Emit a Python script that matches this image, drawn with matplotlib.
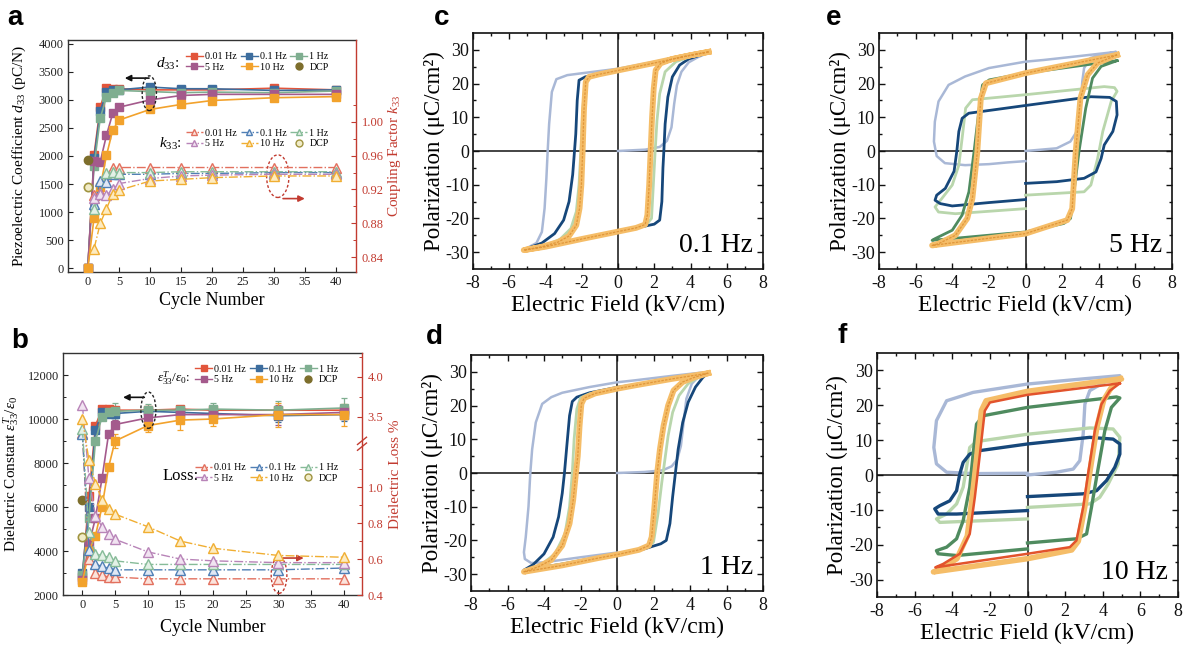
import numpy as np
import matplotlib
matplotlib.use("Agg")
import matplotlib.pyplot as plt
from matplotlib.lines import Line2D
from matplotlib.patches import Ellipse

plt.rcParams['font.family'] = ['Liberation Serif', 'DejaVu Serif']
plt.rcParams['mathtext.fontset'] = 'custom'
plt.rcParams['mathtext.rm'] = 'Liberation Serif'
plt.rcParams['mathtext.it'] = 'Liberation Serif:italic'
plt.rcParams['mathtext.bf'] = 'Liberation Serif:bold'
plt.rcParams['axes.unicode_minus'] = False

# ---------------- cycling data (panels a, b) ----------------
cycles = [0, 1, 2, 3, 4, 5, 10, 15, 20, 30, 40]
freq_labels = ['0.01 Hz', '0.1 Hz', '1 Hz', '5 Hz', '10 Hz']

d33_001 = [0, 2020, 2880, 3210, 3190, 3200, 3180, 3180, 3180, 3210, 3180]
d33_01 = [0, 1960, 2800, 3150, 3170, 3180, 3230, 3200, 3200, 3170, 3180]
d33_1 = [0, 1820, 2680, 3050, 3120, 3170, 3150, 3130, 3140, 3130, 3160]
d33_5 = [0, 1910, 1900, 2370, 2760, 2870, 3000, 3080, 3100, 3100, 3100]
d33_10 = [0, 900, 1450, 2010, 2460, 2640, 2830, 2920, 2990, 3040, 3060]
d33_dcp = 1920

k33_cycles = [1, 2, 3, 4, 5, 10, 15, 20, 30, 40]
k33_001 = [0.913, 0.917, 0.936, 0.946, 0.946, 0.946, 0.946, 0.946, 0.946, 0.946]
k33_01 = [0.903, 0.930, 0.929, 0.938, 0.938, 0.938, 0.939, 0.939, 0.940, 0.940]
k33_1 = [0.897, 0.915, 0.940, 0.941, 0.940, 0.940, 0.941, 0.941, 0.941, 0.941]
k33_5 = [0.910, 0.915, 0.913, 0.920, 0.927, 0.933, 0.936, 0.937, 0.938, 0.938]
k33_10 = [0.850, 0.880, 0.897, 0.915, 0.919, 0.930, 0.932, 0.934, 0.936, 0.936]
k33_dcp = 0.923

eps_001 = [2800, 6500, 9700, 10450, 10450, 10400, 10400, 10450, 10400, 10400, 10400]
eps_01 = [3000, 6000, 9500, 10300, 10250, 10250, 10350, 10300, 10250, 10150, 10200]
eps_1 = [2900, 5500, 9000, 10100, 10300, 10350, 10400, 10400, 10450, 10400, 10500]
eps_5 = [2700, 4300, 5500, 7300, 9300, 9750, 10050, 10200, 10200, 10200, 10300]
eps_10 = [2600, 4000, 4700, 6000, 7800, 9000, 9700, 9950, 10000, 10200, 10200]
eps_dcp = 6300

err_cycles = [5, 10, 15, 20, 30, 40]
eps_err_001 = [150, 150, 100, 150, 200, 200]
eps_err_01 = [200, 200, 200, 150, 300, 300]
eps_err_1 = [400, 300, 200, 300, 400, 450]
eps_err_5 = [200, 250, 300, 250, 450, 300]
eps_err_10 = [300, 300, 450, 300, 550, 500]

loss_001 = [3.30, 0.60, 0.52, 0.51, 0.50, 0.50, 0.49, 0.49, 0.49, 0.49, 0.49]
loss_01 = [3.23, 0.65, 0.57, 0.56, 0.55, 0.54, 0.54, 0.54, 0.54, 0.54, 0.55]
loss_1 = [3.35, 0.75, 0.63, 0.62, 0.61, 0.59, 0.57, 0.57, 0.57, 0.57, 0.57]
loss_5 = [3.65, 1.05, 0.84, 0.78, 0.74, 0.71, 0.64, 0.60, 0.59, 0.58, 0.58]
loss_10 = [3.47, 1.15, 1.02, 0.93, 0.88, 0.85, 0.78, 0.70, 0.66, 0.62, 0.61]
loss_dcp = 0.72

sq_colors = ['#e2553b', '#3d6d9e', '#7fae90', '#a45a8c', '#f2a22c']
tri_colors = ['#e2705e', '#4f7fb5', '#86bb98', '#b884b8', '#f0ae32']
tri_fills = ['#fbe3dc', '#e0e8f5', '#e3f1e6', '#f1e3f1', '#fdebc0']
dcp_color = '#7d6e2c'
red_axis = '#c23b30'

# ---------------- P-E loop data (panels c-f) ----------------
c_gray = ([0.0, 1.5, 2.3, 2.7, 2.95, 3.1, 3.25, 3.5, 3.9, 4.4, 5.0, 3.0, 1.0, 0.0, -1.5, -2.8, -3.4, -3.65,
           -3.8, -3.88, -3.95, -4.05, -4.2, -4.5, -5.2, -4.0, -3.0],
          [0.0, 0.4, 1.2, 3.0, 7.0, 14.0, 19.5, 23.5, 26.3, 27.8, 29.2, 27.5, 25.4, 24.4, 23.4, 22.5, 21.3, 17.5,
           8.0, 0.0, -8.0, -17.0, -24.0, -27.3, -29.3, -28.4, -27.3])
c_navy = ([5.0, 3.0, 1.0, 0.0, -1.0, -1.8, -2.15, -2.25, -2.33, -2.4, -2.5, -2.7, -3.0, -3.5, -4.2, -5.2,
           -3.0, -1.0, 0.0, 1.2, 2.0, 2.3, 2.42, 2.48, 2.53, 2.6, 2.75, 3.0, 3.4, 3.9, 4.4, 5.0],
          [29.2, 27.2, 25.0, 23.9, 22.8, 22.0, 21.0, 15.0, 5.0, 0.0, -7.0, -15.0, -20.5, -24.5, -27.3, -29.3,
           -27.2, -25.0, -23.9, -22.6, -21.7, -20.5, -15.0, -5.0, 0.0, 8.0, 16.0, 22.0, 25.5, 27.3, 28.2, 29.2])
c_lgreen = ([5.0, 3.0, 0.0, -1.5, -1.8, -1.95, -2.05, -2.15, -2.3, -2.6, -3.2, -4.0, -5.2, -3.0, 0.0, 1.5,
             1.85, 1.97, 2.05, 2.15, 2.3, 2.6, 3.2, 4.0, 5.0],
            [29.2, 27.2, 23.9, 22.2, 21.0, 12.0, 0.0, -10.0, -18.0, -23.0, -26.2, -28.0, -29.3, -27.2, -23.9,
             -22.2, -20.0, -8.0, 0.0, 9.0, 17.0, 23.5, 26.5, 28.0, 29.2])
c_orange = ([5.0, 4.0, 2.0, 0.0, -1.0, -1.6, -1.78, -1.88, -1.95, -2.02, -2.12, -2.3, -2.7, -3.3, -4.2, -5.2,
             -4.0, -2.0, 0.0, 1.0, 1.5, 1.62, 1.72, 1.8, 1.88, 1.97, 2.08, 2.35, 3.0, 4.0, 5.0],
            [29.4, 28.4, 26.1, 23.9, 22.8, 22.0, 20.5, 12.0, 0.0, -10.0, -17.0, -22.0, -25.2, -27.0, -28.4,
             -29.4, -28.4, -26.1, -23.9, -22.8, -21.8, -19.0, -10.0, 0.0, 10.0, 18.5, 24.0, 26.0, 27.3, 28.4,
             29.4])

d_gray = ([0.0, 1.5, 2.5, 3.0, 3.3, 3.5, 3.65, 3.8, 4.1, 4.5, 5.0, 3.0, 1.0, 0.0, -1.5, -3.0, -3.6, -4.1,
           -4.45, -4.65, -4.75, -4.85, -5.0, -5.1, -5.05, -4.7, -4.0, -2.0, 0.0],
          [0.0, 0.3, 0.8, 2.0, 4.0, 8.0, 15.0, 22.0, 26.5, 28.8, 30.0, 28.8, 27.5, 26.9, 25.5, 23.8, 22.5, 20.5,
           15.0, 7.0, 0.0, -10.0, -19.0, -23.5, -25.5, -26.7, -26.5, -25.0, -23.6])
d_navy = ([5.0, 3.0, 1.0, 0.0, -1.5, -2.2, -2.45, -2.6, -2.75, -2.88, -3.0, -3.2, -3.5, -4.0, -4.6, -5.1,
           -3.0, -1.0, 0.0, 1.5, 2.4, 2.7, 2.9, 3.05, 3.2, 3.35, 3.6, 3.9, 4.3, 4.7, 5.0],
          [29.8, 28.0, 26.2, 25.4, 23.8, 22.5, 21.2, 17.0, 8.0, 0.0, -6.0, -13.0, -19.0, -24.0, -27.2, -28.8,
           -27.0, -25.0, -24.2, -22.5, -21.0, -20.0, -15.0, -7.0, 0.0, 7.0, 15.0, 21.0, 25.5, 28.3, 29.8])
d_lgreen = ([5.0, 3.0, 0.0, -1.5, -2.0, -2.2, -2.35, -2.45, -2.6, -2.85, -3.4, -4.3, -5.1, -3.0, 0.0, 1.7,
             2.0, 2.25, 2.45, 2.6, 2.8, 3.05, 3.4, 3.9, 4.5, 5.0],
            [29.8, 28.0, 25.2, 23.5, 22.3, 19.0, 10.0, 0.0, -10.0, -18.0, -24.0, -27.8, -29.0, -27.0, -24.0,
             -22.0, -20.5, -12.0, -3.0, 3.0, 11.0, 18.0, 23.0, 26.5, 28.5, 29.8])
d_orange = ([5.0, 3.0, 1.0, 0.0, -1.2, -1.8, -1.95, -2.05, -2.15, -2.25, -2.4, -2.6, -3.0, -3.6, -4.3, -5.1,
             -3.0, -1.0, 0.0, 1.2, 1.75, 1.9, 2.05, 2.2, 2.35, 2.55, 2.8, 3.1, 3.6, 4.2, 5.0],
            [29.6, 27.9, 26.0, 25.0, 23.6, 22.2, 20.5, 14.0, 5.0, 0.0, -8.0, -15.0, -21.5, -25.8, -27.8, -29.3,
             -27.4, -25.2, -24.2, -22.8, -21.5, -19.0, -10.0, 0.0, 7.0, 14.0, 20.0, 24.5, 27.0, 28.3, 29.6])

e_gray = ([0.0, 1.7, 2.45, 2.8, 3.0, 3.1, 3.2, 3.55, 4.2, 4.95, 3.0, 1.0, 0.0, -2.0, -3.3, -4.2, -4.75,
           -4.95, -5.0, -4.85, -4.4, -3.3, -2.0, -1.0, 0.0],
          [0.0, 0.8, 2.8, 5.8, 12.7, 20.6, 24.6, 27.6, 28.6, 29.4, 28.2, 27.0, 26.5, 24.6, 22.1, 19.6, 14.7,
           8.7, 2.8, -1.5, -3.6, -4.2, -3.9, -3.4, -3.0])
e_navy = ([0.0, 1.7, 3.2, 3.85, 4.13, 4.3, 4.77, 5.0, 4.96, 4.6, 3.57, 0.0, -3.1, -3.46, -3.64, -3.75, -3.9,
           -4.38, -4.85, -4.94, -4.66, -4.0, -2.0, 0.0],
          [-9.6, -9.1, -8.1, -6.2, -2.2, 1.8, 5.8, 10.7, 14.7, 15.9, 16.1, 13.5, 11.2, 9.7, 5.8, 0.0, -6.0,
           -11.1, -13.1, -14.6, -15.6, -16.3, -15.3, -14.4])
e_lgreen = ([0.0, 3.2, 3.57, 3.94, 4.22, 4.68, 5.0, 4.86, 4.3, 0.0, -2.9, -3.27, -3.46, -3.64, -4.0, -4.57,
             -4.94, -4.75, -3.83, 0.0],
            [-13.1, -12.1, -10.1, -2.2, 5.8, 14.7, 17.7, 18.8, 19.1, 16.7, 15.2, 12.7, 3.8, -4.2, -10.1, -14.1,
             -16.6, -18.1, -18.6, -17.1])
e_dgreen = ([5.0, 0.0, -1.98, -2.35, -2.53, -2.81, -3.09, -3.46, -4.0, -4.94, -5.1, 0.0, 2.09, 2.46, 2.65,
             2.92, 3.29, 3.66, 4.13, 5.0],
            [26.8, 23.1, 21.1, 19.6, 12.7, -0.2, -12.1, -19.0, -23.5, -26.0, -26.5, -24.0, -21.5, -20.0, -12.1,
             -0.2, 12.7, 21.6, 25.1, 26.8])
e_orange = ([5.0, 0.0, -2.16, -2.44, -2.63, -2.9, -3.18, -3.83, -4.75, -5.1, 0.0, 2.28, 2.55, 2.74, 3.0,
             3.39, 3.94, 5.0],
            [28.5, 23.1, 20.1, 15.6, -0.2, -14.1, -20.0, -25.0, -27.5, -28.0, -24.5, -20.5, -17.1, -0.2, 15.7,
             22.6, 26.1, 28.5])

f_gray = ([0.0, 1.54, 2.43, 2.78, 2.96, 3.05, 3.31, 4.2, 4.91, 3.0, 0.0, -2.89, -4.3, -4.84, -4.98, -4.84,
           -4.3, -2.89, 0.0],
          [0.0, 0.8, 1.7, 4.1, 11.7, 20.3, 24.2, 27.0, 28.5, 27.6, 26.1, 23.7, 21.3, 15.6, 7.9, 3.2, 0.8, 0.4,
           0.5])
f_navy = ([0.0, 2.96, 3.67, 4.2, 4.64, 4.91, 4.91, 4.55, 3.31, 0.0, -2.53, -3.07, -3.42, -3.6, -3.77, -4.13,
           -4.66, -4.93, -4.75, -3.77, 0.0],
          [-6.2, -5.4, -4.5, -1.6, 2.2, 6.0, 8.9, 10.3, 10.8, 8.9, 7.0, 6.0, 3.6, 0.3, -4.5, -7.4, -8.8, -9.7,
           -11.2, -11.2, -10.2])
f_lgreen = ([0.0, 3.31, 3.84, 4.29, 4.82, 4.91, 4.55, 3.31, 0.0, -2.71, -3.07, -3.24, -3.42, -3.77, -4.3,
             -4.84, -4.66, -3.77, 0.0],
            [-9.3, -8.3, -6.4, -2.6, 3.2, 10.8, 13.2, 13.5, 11.7, 9.6, 7.9, 2.2, -3.5, -8.3, -11.2, -12.6,
             -13.6, -13.4, -12.6])
f_dgreen = ([0.0, 2.6, 3.14, 3.4, 3.67, 4.11, 4.46, 4.91, 4.73, 0.0, -2.36, -2.71, -2.89, -3.07, -3.42,
             -3.77, -4.3, -4.84, -4.75, -3.77, 0.0],
            [-19.5, -18.3, -16.9, -9.3, -0.7, 12.7, 19.4, 22.1, 22.4, 19.4, 17.0, 14.6, 6.0, -3.5, -13.1,
             -18.3, -20.7, -21.7, -22.6, -23.1, -21.2])
f_orange = ([4.95, 0.0, -2.2, -2.45, -2.7, -2.95, -3.2, -3.75, -4.6, -5.0, 0.0, 2.35, 2.7, 3.05, 3.32, 3.68,
             4.05, 4.5, 4.95],
            [27.6, 24.0, 21.3, 18.5, 5.0, -7.0, -17.5, -24.0, -27.0, -27.8, -24.0, -21.5, -19.0, -9.0, 1.0,
             13.5, 21.5, 25.5, 27.6])
f_red = ([4.91, 0.0, -2.0, -2.27, -2.53, -2.8, -3.07, -3.6, -4.48, -4.9, 0.0, 2.25, 2.6, 2.96, 3.22, 3.58,
          3.93, 4.38, 4.91],
         [26.3, 23.0, 20.8, 18.4, 6.0, -6.4, -16.9, -22.6, -25.5, -26.5, -22.6, -20.7, -18.8, -9.3, 0.3, 12.7,
          20.3, 24.2, 26.3])

loop_gray = '#a9b8d6'
loop_navy = '#16477a'
loop_lgreen = '#b9d6ac'
loop_dgreen = '#4f8b5f'
loop_orange = '#f5bd68'
loop_orange_core = '#e0963a'
loop_red = '#e2532c'

# ---------------- figure ----------------
fig = plt.figure(figsize=(11.89, 6.47), dpi=100)
W, H = 1189.0, 647.0


def px_axes(left, top, right, bottom):
    return fig.add_axes([left / W, 1 - bottom / H, (right - left) / W, (bottom - top) / H])


def style_cycle_axes(ax, ax2):
    for s in ['left', 'bottom', 'top']:
        ax.spines[s].set_color('#333333')
        ax.spines[s].set_linewidth(1.0)
    ax.spines['right'].set_visible(False)
    for s in ['left', 'bottom', 'top']:
        ax2.spines[s].set_visible(False)
    ax2.spines['right'].set_color(red_axis)
    ax2.spines['right'].set_linewidth(1.0)
    ax.tick_params(direction='in', length=3.5, width=0.8, labelsize=9, pad=3, colors='#222222')
    ax.tick_params(axis='x', top=False)
    ax2.tick_params(axis='y', direction='in', length=3.5, width=0.8, labelsize=9, pad=4,
                    colors=red_axis, which='major')
    ax2.tick_params(axis='y', direction='in', length=2.0, width=0.7, which='minor', colors=red_axis)
    ax.set_xticks(range(0, 41, 5))


# ---------- panel a ----------
axa = px_axes(68, 40, 356, 272)
axa2 = axa.twinx()
style_cycle_axes(axa, axa2)
axa.set_xlim(-3.2, 43.2)
axa.set_ylim(-70, 4070)
axa.set_yticks(range(0, 4001, 500))
axa2.set_ylim(0.8223, 1.097)
axa2.set_yticks([0.84, 0.88, 0.92, 0.96, 1.00])
axa2.set_yticks([0.86, 0.90, 0.94, 0.98, 1.02], minor=True)
axa2.set_yticklabels(['0.84', '0.88', '0.92', '0.96', '1.00'])

d33_series = [d33_001, d33_01, d33_1, d33_5, d33_10]
k33_series = [k33_001, k33_01, k33_1, k33_5, k33_10]
for vals, c in zip(d33_series, sq_colors):
    axa.plot(cycles, vals, '-', color=c, lw=1.2, marker='s', ms=5.5, mfc=c, mec=c, zorder=3)
axa.plot([0], [d33_dcp], 'o', color=dcp_color, ms=6, zorder=4)
for vals, c, fc in zip(k33_series, tri_colors, tri_fills):
    axa2.plot(k33_cycles, vals, linestyle='-.', color=c, lw=1.0, marker='^', ms=6.5, mfc=fc, mec=c, mew=1.0)
axa2.plot([0], [k33_dcp], 'o', ms=6, mfc='#f1ecc8', mec='#a09440', mew=1.2)

axa.set_xlabel('Cycle Number', fontsize=13)
axa.xaxis.set_label_coords(0.5, -0.085)
axa.set_ylabel(r'Piezoelectric Coefficient $d_{33}$ (pC/N)', fontsize=11)
axa.yaxis.set_label_coords(-0.14, 0.5)
axa2.set_ylabel(r'Coupling Factor $k_{33}$', fontsize=11, color=red_axis)
axa2.yaxis.set_label_coords(1.105, 0.5)

h_sq = [Line2D([], [], color=c, lw=1.0, marker='s', ms=4.5, label=l) for c, l in zip(sq_colors, freq_labels)]
h_dcp = Line2D([], [], color=dcp_color, marker='o', ls='none', ms=5, label='DCP')
leg_kw = dict(ncol=3, frameon=False, fontsize=7.2, handlelength=1.7, handletextpad=0.2,
              columnspacing=0.4, labelspacing=0.15, borderpad=0, borderaxespad=0, loc='upper right')
axa.legend(handles=[h_sq[0], h_sq[3], h_sq[1], h_sq[4], h_sq[2], h_dcp],
           bbox_to_anchor=(0.905, 0.948), **leg_kw)
h_tri = [Line2D([], [], color=c, lw=1.0, ls='-.', marker='^', ms=5, mfc=fc, mec=c, label=l)
         for c, fc, l in zip(tri_colors, tri_fills, freq_labels)]
h_dcp2 = Line2D([], [], ls='none', marker='o', ms=5, mfc='#f1ecc8', mec='#a09440', label='DCP')
axa2.legend(handles=[h_tri[0], h_tri[3], h_tri[1], h_tri[4], h_tri[2], h_dcp2],
            bbox_to_anchor=(0.905, 0.617), **leg_kw)
axa.text(0.345, 0.895, r'$d_{33}$:', transform=axa.transAxes, fontsize=11, ha='center', va='center')
axa.text(0.355, 0.553, r'$k_{33}$:', transform=axa.transAxes, fontsize=11, ha='center', va='center')

axa.add_patch(Ellipse((9.9, 3120), 2.3, 620, fill=False, ls=(0, (2, 1.5)), lw=1.0, ec='#222222', zorder=5))
axa.annotate('', xy=(5.5, 3390), xytext=(10.3, 3390),
             arrowprops=dict(arrowstyle='-|>', color='#111111', lw=1.2, mutation_scale=9))
axa.add_patch(Ellipse((30.6, 1640), 3.6, 760, fill=False, ls=(0, (2, 1.5)), lw=1.0, ec=red_axis, zorder=5))
axa.annotate('', xy=(35.4, 1240), xytext=(31.0, 1240),
             arrowprops=dict(arrowstyle='-|>', color=red_axis, lw=1.2, mutation_scale=9))


# ---------- panel b ----------
def loss_fwd(v):
    v = np.asarray(v, dtype=float)
    return np.where(v <= 1.2, (v - 0.4) * 180.0,
                    np.where(v < 3.3, 144.0 + (v - 1.2) * (18.3 / 2.1), 178.3 + (v - 3.5) * 80.0))


def loss_inv(u):
    u = np.asarray(u, dtype=float)
    return np.where(u <= 144.0, u / 180.0 + 0.4,
                    np.where(u < 162.3, 1.2 + (u - 144.0) * (2.1 / 18.3), 3.5 + (u - 178.3) / 80.0))


axb = px_axes(63, 353, 362, 595)
axb2 = axb.twinx()
style_cycle_axes(axb, axb2)
axb.set_xlim(-2.97, 42.8)
axb.set_ylim(2000, 13000)
axb.set_yticks(range(2000, 12001, 2000))
axb.set_yticks(range(3000, 13001, 2000), minor=True)
axb.tick_params(axis='y', which='minor', direction='in', length=2.0)
axb2.set_yscale('function', functions=(loss_fwd, loss_inv))
axb2.set_ylim(0.4, 4.30)
axb2.set_yticks([0.4, 0.6, 0.8, 1.0, 3.5, 4.0])
axb2.set_yticklabels(['0.4', '0.6', '0.8', '1.0', '3.5', '4.0'])
axb2.set_yticks([0.5, 0.7, 0.9, 1.1, 3.75, 4.25], minor=True)
axb2.yaxis.set_minor_formatter(matplotlib.ticker.NullFormatter())

eps_series = [eps_001, eps_01, eps_1, eps_5, eps_10]
eps_errs = [eps_err_001, eps_err_01, eps_err_1, eps_err_5, eps_err_10]
loss_series = [loss_001, loss_01, loss_1, loss_5, loss_10]
for vals, err, c in zip(eps_series, eps_errs, sq_colors):
    sub = [vals[cycles.index(x)] for x in err_cycles]
    axb.errorbar(err_cycles, sub, yerr=err, fmt='none', ecolor=c, elinewidth=0.9, capsize=2.2,
                 capthick=0.9, zorder=2)
    axb.plot(cycles, vals, '-', color=c, lw=1.2, marker='s', ms=5.5, mfc=c, mec=c, zorder=3)
axb.plot([0], [eps_dcp], 'o', color=dcp_color, ms=6, zorder=4)
for vals, c, fc in zip(loss_series, tri_colors, tri_fills):
    axb2.plot(cycles, vals, linestyle='-.', color=c, lw=1.0, marker='^', ms=6.5, mfc=fc, mec=c, mew=1.0)
axb2.plot([0], [loss_dcp], 'o', ms=6, mfc='#f1ecc8', mec='#a09440', mew=1.2)

axb.set_xlabel('Cycle Number', fontsize=13)
axb.xaxis.set_label_coords(0.5, -0.1)
axb.set_ylabel(r'Dielectric Constant $ε_{33}^{T}/ε_{0}$', fontsize=11)
axb.yaxis.set_label_coords(-0.14, 0.5)
axb2.set_ylabel('Dielectric Loss %', fontsize=11, color=red_axis)
axb2.yaxis.set_label_coords(1.09, 0.5)

axb.legend(handles=[h_sq[0], h_sq[3], h_sq[1], h_sq[4], h_sq[2], h_dcp],
           bbox_to_anchor=(0.92, 0.952), **leg_kw)
axb2.legend(handles=[h_tri[0], h_tri[3], h_tri[1], h_tri[4], h_tri[2], h_dcp2],
            bbox_to_anchor=(0.92, 0.545), **leg_kw)
axb.text(0.37, 0.898, r'$ε_{33}^{T}/ε_{0}$:', transform=axb.transAxes, fontsize=9.5, ha='center',
         va='center')
axb.text(0.395, 0.49, 'Loss:', transform=axb.transAxes, fontsize=12, ha='center', va='center')

# break marks on the loss axis
for dy in (-0.012, 0.012):
    axb2.plot([0.985, 1.015], [0.625 + dy - 0.015, 0.625 + dy + 0.015], transform=axb2.transAxes,
              color=red_axis, lw=1.0, clip_on=False)

axb.add_patch(Ellipse((10.1, 10400), 2.3, 1650, fill=False, ls=(0, (2, 1.5)), lw=1.0, ec='#222222', zorder=5))
axb.annotate('', xy=(5.8, 10985), xytext=(9.9, 10985),
             arrowprops=dict(arrowstyle='-|>', color='#111111', lw=1.2, mutation_scale=9))
axb.add_patch(Ellipse((30.1, 2900), 2.4, 1650, fill=False, ls=(0, (2, 1.5)), lw=1.0, ec=red_axis, zorder=5))
axb.annotate('', xy=(34.3, 3680), xytext=(30.3, 3680),
             arrowprops=dict(arrowstyle='-|>', color=red_axis, lw=1.2, mutation_scale=9))


# ---------- P-E panels ----------
def pe_axes(left, top, right, bottom, tag, ylab_x, xlab_y):
    ax = px_axes(left, top, right, bottom)
    ax.set_xlim(-8, 8)
    ax.set_ylim(-35, 35)
    ax.set_xticks(range(-8, 9, 2))
    ax.set_xticks(range(-7, 8, 2), minor=True)
    ax.set_yticks(range(-30, 31, 10))
    ax.set_yticks(range(-25, 26, 10), minor=True)
    ax.tick_params(which='both', direction='in', top=True, right=True, width=1.0, labelsize=13,
                   colors='#111111')
    ax.tick_params(which='major', length=4.5, pad=3)
    ax.tick_params(axis='x', which='major', pad=4)
    ax.tick_params(which='minor', length=2.5)
    for s in ax.spines.values():
        s.set_linewidth(1.2)
        s.set_color('#111111')
    ax.axhline(0, color='#111111', lw=1.1, zorder=1)
    ax.axvline(0, color='#111111', lw=1.1, zorder=1)
    ax.set_xlabel('Electric Field (kV/cm)', fontsize=17)
    ax.xaxis.set_label_coords(0.5, xlab_y)
    ax.set_ylabel('Polarization (μC/cm²)', fontsize=16.5)
    ax.yaxis.set_label_coords(ylab_x, 0.5)
    ax.text(7.45, -28.0, tag, fontsize=20, ha='right', va='center')
    return ax


def draw_loop(ax, loop, color, lw, z=3):
    ax.plot(loop[0], loop[1], color=color, lw=lw, solid_joinstyle='round', zorder=z)


def draw_orange(ax, loop):
    ax.plot(loop[0], loop[1], color=loop_orange, lw=4.2, solid_joinstyle='round', zorder=5)
    ax.plot(loop[0], loop[1], color=loop_orange_core, lw=0.9, ls=(0, (2, 1)), zorder=6)


axc = pe_axes(473, 33, 763, 269, '0.1 Hz', -0.098, -0.11)
draw_loop(axc, c_gray, loop_gray, 1.8)
draw_loop(axc, c_navy, loop_navy, 2.0)
draw_loop(axc, c_lgreen, loop_lgreen, 2.0, 4)
draw_orange(axc, c_orange)

axd = pe_axes(471, 355, 763, 591, '1 Hz', -0.097, -0.11)
draw_loop(axd, d_gray, loop_gray, 1.8)
draw_loop(axd, d_navy, loop_navy, 2.0)
draw_loop(axd, d_lgreen, loop_lgreen, 2.0, 4)
draw_orange(axd, d_orange)

axe = pe_axes(879, 33, 1172, 269, '5 Hz', -0.097, -0.11)
draw_loop(axe, e_gray, loop_gray, 1.8)
draw_loop(axe, e_lgreen, loop_lgreen, 2.0)
draw_loop(axe, e_navy, loop_navy, 2.0)
draw_loop(axe, e_dgreen, loop_dgreen, 2.0, 4)
draw_orange(axe, e_orange)

axf = pe_axes(877, 353, 1178, 597, '10 Hz', -0.095, -0.105)
draw_loop(axf, f_gray, loop_gray, 2.4)
draw_loop(axf, f_lgreen, loop_lgreen, 2.4)
draw_loop(axf, f_navy, loop_navy, 2.4)
draw_loop(axf, f_dgreen, loop_dgreen, 2.4, 4)
axf.plot(f_orange[0], f_orange[1], color=loop_orange, lw=4.0, zorder=5)
draw_loop(axf, f_red, loop_red, 1.8, 6)

# panel letters
for letter, x, y in [('a', 7, 25), ('b', 11, 348), ('c', 434, 25), ('d', 426, 344), ('e', 826, 25),
                     ('f', 838, 343)]:
    fig.text(x / W, 1 - y / H, letter, fontsize=20, fontweight='bold', family='Liberation Sans',
             ha='left', va='baseline')

fig.savefig('out.png', dpi=100)
